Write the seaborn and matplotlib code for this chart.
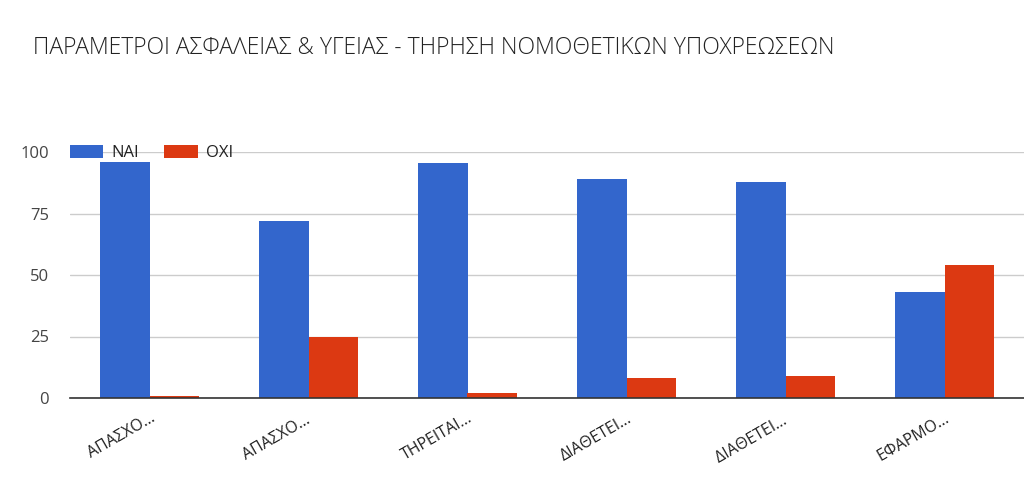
import matplotlib
matplotlib.use("Agg")
import matplotlib.pyplot as plt
import seaborn as sns
import pandas as pd

categories = ["ΑΠΑΣΧΟ…", "ΑΠΑΣΧΟ… ", "ΤΗΡΕΙΤΑΙ…", "ΔΙΑΘΕΤΕΙ…", "ΔΙΑΘΕΤΕΙ… ", "ΕΦΑΡΜΟ…"]
nai = [96, 72, 95.5, 89, 88, 43]
oxi = [1, 25, 2, 8, 9, 54]
series = ["NAI", "OXI"]
colors = ["#3366cc", "#dc3912"]
title = "ΠΑΡΑΜΕΤΡΟΙ ΑΣΦΑΛΕΙΑΣ & ΥΓΕΙΑΣ - ΤΗΡΗΣΗ ΝΟΜΟΘΕΤΙΚΩΝ ΥΠΟΧΡΕΩΣΕΩΝ"

df = pd.DataFrame({
    "cat": categories * 2,
    "val": nai + oxi,
    "series": [series[0]] * len(nai) + [series[1]] * len(oxi),
})

sns.set_theme(style="white")
plt.rcParams["font.family"] = ["Open Sans", "DejaVu Sans"]

fig = plt.figure(figsize=(10.24, 5.01), dpi=100)
ax = fig.add_axes([70 / 1024, 1 - 398 / 501, 954 / 1024, (398 - 152) / 501])

sns.barplot(data=df, x="cat", y="val", hue="series", palette=colors,
            width=0.62, saturation=1, ax=ax, zorder=3, linewidth=0)

ax.set_ylim(0, 100)
ax.set_yticks([0, 25, 50, 75, 100])
ax.yaxis.grid(True, color="#cccccc", linewidth=1, zorder=0)
ax.set_axisbelow(True)
for s in ["top", "right", "left"]:
    ax.spines[s].set_visible(False)
ax.spines["bottom"].set_color("#333333")
ax.spines["bottom"].set_linewidth(1.2)
ax.spines["bottom"].set_zorder(5)
ax.set_xlabel("")
ax.set_ylabel("")
ax.tick_params(axis="y", length=0, labelsize=12, labelcolor="#444444", pad=15)
ax.tick_params(axis="x", length=0, labelsize=11.5, labelcolor="#222222", pad=9)
plt.setp(ax.get_xticklabels(), rotation=30, ha="right", rotation_mode="anchor")

leg = ax.legend(loc="upper left", bbox_to_anchor=(0.0, 1.03), ncol=2, frameon=False,
                fontsize=12, handlelength=2.0, handleheight=0.9, columnspacing=1.5,
                handletextpad=0.5, borderaxespad=0, borderpad=0)
for t in leg.get_texts():
    t.set_color("#222222")

fig.text(33 / 1024, 1 - 48 / 501, title, fontsize=16.5, color="#222222",
         va="center", ha="left", fontweight="light")

fig.savefig("out.png", dpi=100, facecolor="white")
